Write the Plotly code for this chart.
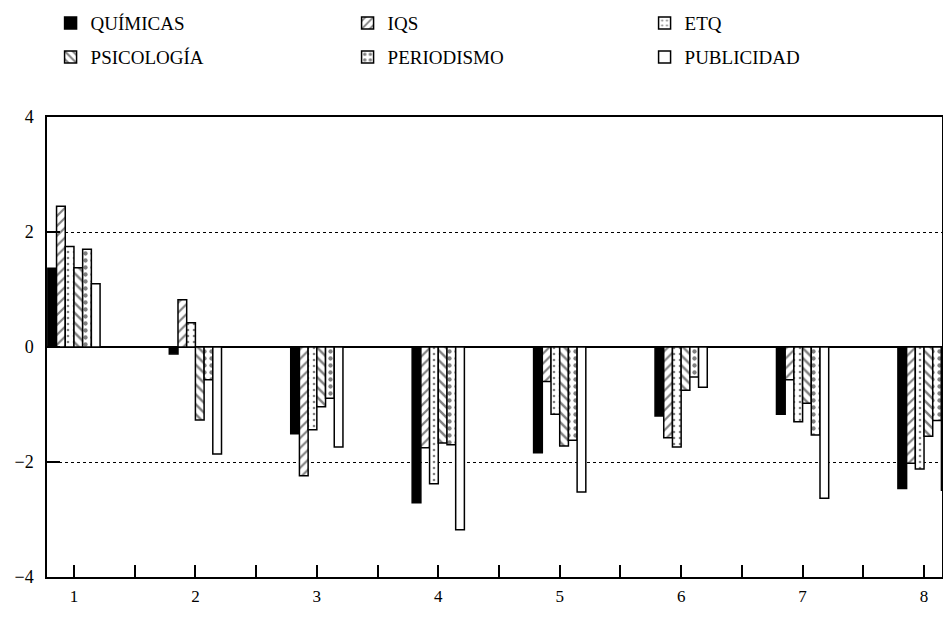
import plotly.graph_objects as go

categories = [1, 2, 3, 4, 5, 6, 7, 8]
quimicas   = [1.37, -0.12, -1.51, -2.71, -1.84, -1.20, -1.17, -2.46]
iqs        = [2.45, 0.82, -2.24, -1.75, -0.60, -1.58, -0.57, -2.02]
etq        = [1.75, 0.42, -1.44, -2.38, -1.17, -1.74, -1.30, -2.12]
psicologia = [1.38, -1.27, -1.04, -1.67, -1.72, -0.75, -0.98, -1.55]
periodismo = [1.70, -0.57, -0.89, -1.70, -1.62, -0.52, -1.53, -1.28]
publicidad = [1.10, -1.86, -1.74, -3.18, -2.52, -0.70, -2.63, -2.49]
y_ticks = [-4, -2, 0, 2, 4]

FONT = "Liberation Serif"

series = [
    ("QUÍMICAS", quimicas, dict(color="black"), "legend"),
    ("IQS", iqs, dict(color="white", pattern=dict(shape="/", fgcolor="black", bgcolor="white", size=7, solidity=0.3)), "legend"),
    ("ETQ", etq, dict(color="white", pattern=dict(shape=".", fgcolor="black", bgcolor="white", size=6, solidity=0.15)), "legend"),
    ("PSICOLOGÍA", psicologia, dict(color="white", pattern=dict(shape="\\", fgcolor="black", bgcolor="white", size=7, solidity=0.35)), "legend2"),
    ("PERIODISMO", periodismo, dict(color="white", pattern=dict(shape=".", fgcolor="black", bgcolor="white", size=7, solidity=0.3)), "legend2"),
    ("PUBLICIDAD", publicidad, dict(color="white"), "legend2"),
]

fig = go.Figure()
for name, vals, mk, lg in series:
    mk = dict(mk)
    mk["line"] = dict(color="black", width=1.5)
    fig.add_trace(go.Bar(x=categories, y=vals, name=name, marker=mk, legend=lg))

legend_common = dict(
    orientation="h", x=0.004, xanchor="left", yanchor="middle",
    entrywidth=252, entrywidthmode="pixels",
    font=dict(family=FONT, size=19, color="black"),
    bgcolor="rgba(0,0,0,0)", traceorder="normal",
)

# page body has an 8px default margin on every side, so the figure is sized to fit the window
fig.update_layout(
    width=935, height=601,
    margin=dict(l=39, r=1, t=109, b=32, autoexpand=False),
    paper_bgcolor="white", plot_bgcolor="white",
    barmode="group", bargap=0.57, bargroupgap=0,
    font=dict(family=FONT, color="black", size=18),
    showlegend=True,
    legend=dict(legend_common, y=1.204),
    legend2=dict(legend_common, y=1.130),
    xaxis=dict(
        range=[0.778, 8.148], tickmode="array", tickvals=categories,
        ticktext=[str(c) for c in categories],
        ticks="inside", ticklen=12, tickwidth=1.5, tickcolor="black",
        minor=dict(ticks="inside", dtick=0.5, tick0=0.5, ticklen=12, tickwidth=1.5, tickcolor="black", showgrid=False),
        showline=True, linecolor="black", linewidth=1.5, mirror=True,
        showgrid=False, zeroline=False,
        tickfont=dict(family=FONT, size=17),
        ticklabelstandoff=3,
    ),
    yaxis=dict(
        range=[-4, 4], tickmode="array", tickvals=y_ticks,
        ticktext=["−4", "−2", "0", "2", "4"],
        ticks="inside", ticklen=13, tickwidth=1.5, tickcolor="black",
        showline=True, linecolor="black", linewidth=1.5, mirror=True,
        showgrid=True, gridcolor="black", griddash="dot", gridwidth=1.2,
        zeroline=True, zerolinecolor="black", zerolinewidth=2,
        tickfont=dict(family=FONT, size=18),
        ticklabelstandoff=8,
    ),
)

fig.write_html("out.html")
